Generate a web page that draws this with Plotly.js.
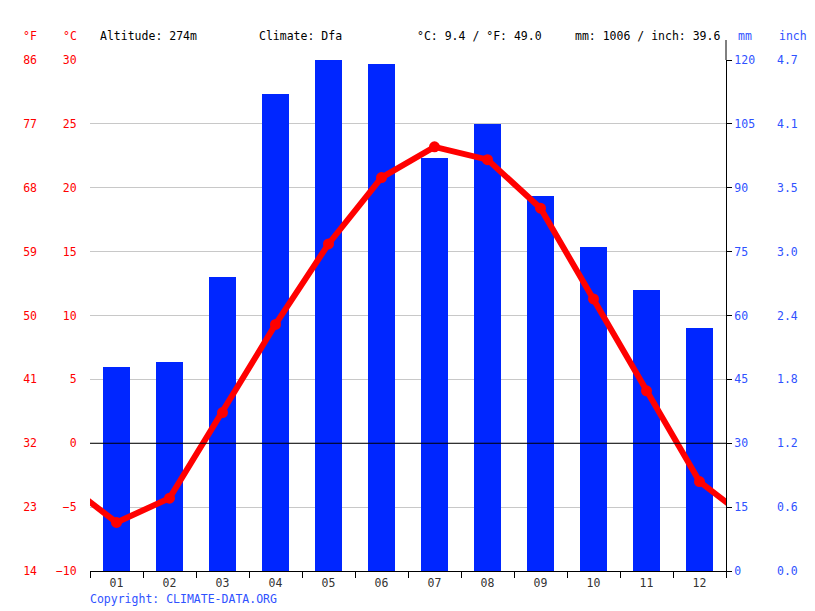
<!DOCTYPE html>
<html>
<head>
<meta charset="utf-8">
<script src="https://cdn.plot.ly/plotly-3.0.1.min.js"></script>
<style>html,body{margin:0;padding:0;background:#fff;}#chart{width:815px;height:611px;}</style>
</head>
<body>
<div id="chart"></div>
<script>
const months = ["01","02","03","04","05","06","07","08","09","10","11","12"];
const precipMm = [48, 49, 69, 112, 120, 119, 97, 105, 88, 76, 66, 57];
const tempC = [-6.2, -4.3, 2.4, 9.3, 15.6, 20.8, 23.2, 22.2, 18.4, 11.3, 4.1, -3.0];
const mmTicks = [0, 15, 30, 45, 60, 75, 90, 105, 120];
const inchLabels = ["0.0", "0.6", "1.2", "1.8", "2.4", "3.0", "3.5", "4.1", "4.7"];
const fTicks = [14, 23, 32, 41, 50, 59, 68, 77, 86];

const W = 815, H = 611;
const ML = 90, MR = 726, MT = 60, MB = 571;
const px = p => p / W;
const py = p => (MB - p) / (MB - MT);

const RED = "#ff0000";
const BLUE = "#0026ff";
const LBLUE = "#2f52ff";
const FONT = "DejaVu Sans Mono";
const FS = 11.5;

const xNum = months.map((m, i) => i + 1);
// wrap-around points so the line runs to the plot edges (clipped by the axis range)
const lineX = [0].concat(xNum, [13]);
const lineY = [tempC[11]].concat(tempC, [tempC[0]]);

const traces = [
  {type: "bar", x: xNum, y: precipMm, yaxis: "y", width: 0.5,
   marker: {color: BLUE}, hoverinfo: "skip"},
  {type: "scatter", mode: "lines+markers", x: lineX, y: lineY, yaxis: "y2",
   line: {color: RED, width: 6}, marker: {color: RED, size: 11}, cliponaxis: true},
  {type: "scatter", x: [], y: [], yaxis: "y3", showlegend: false},
  {type: "scatter", x: [], y: [], yaxis: "y4", showlegend: false}
];

const ann = (text, xp, color, anchor) => ({
  text: text, xref: "paper", yref: "paper", x: px(xp), y: py(36),
  xanchor: anchor || "left", yanchor: "middle", showarrow: false, borderpad: 0,
  font: {family: FONT, size: FS, color: color}
});

const layout = {
  width: W, height: H,
  margin: {l: 0, r: 0, t: MT, b: H - MB},
  paper_bgcolor: "#fff", plot_bgcolor: "#fff",
  showlegend: false, bargap: 0,
  font: {family: FONT, size: FS},
  xaxis: {
    domain: [px(ML), px(MR)], range: [0.5, 12.5],
    tickvals: xNum, ticktext: months,
    ticks: "outside", ticklen: 1, tickcolor: "rgba(0,0,0,0)",
    minor: {tickvals: [0.5,1.5,2.5,3.5,4.5,5.5,6.5,7.5,8.5,9.5,10.5,11.5,12.5], ticks: "outside", ticklen: 6, tickcolor: "#000", showgrid: false},
    showgrid: false, zeroline: false,
    showline: true, linecolor: "#000", linewidth: 1,
    tickfont: {family: FONT, size: FS, color: "#333"}
  },
  yaxis: {
    side: "right", range: [0, 120], tickvals: mmTicks,
    ticks: "outside", ticklen: 5, tickcolor: "#000",
    showline: true, linecolor: "#000", linewidth: 1,
    showgrid: true, gridcolor: "#c8c8c8", gridwidth: 1, zeroline: false,
    tickfont: {family: FONT, size: FS, color: LBLUE}
  },
  yaxis2: {
    overlaying: "y", side: "left", anchor: "x", range: [-10, 30], dtick: 5, tick0: -10,
    ticks: "outside", ticklen: 10, tickcolor: "rgba(0,0,0,0)",
    showgrid: false, zeroline: false, showline: false,
    tickfont: {family: FONT, size: FS, color: RED}
  },
  yaxis3: {
    overlaying: "y", side: "left", anchor: "free", position: px(37),
    range: [14, 86], tickvals: fTicks, ticks: "",
    showgrid: false, zeroline: false, showline: false,
    tickfont: {family: FONT, size: FS, color: RED}
  },
  yaxis4: {
    overlaying: "y", side: "right", anchor: "free", position: px(776),
    range: [0, 120], tickvals: mmTicks, ticktext: inchLabels, ticks: "",
    showgrid: false, zeroline: false, showline: false,
    tickfont: {family: FONT, size: FS, color: LBLUE}
  },
  shapes: [
    {type: "line", xref: "x domain", yref: "y2", x0: 0, x1: 1, y0: 0, y1: 0,
     line: {color: "#000", width: 1}, layer: "above"},
    {type: "line", xref: "paper", yref: "paper", x0: px(MR), x1: px(MR), y0: 1, y1: py(40),
     line: {color: "#000", width: 1}}
  ],
  annotations: [
    ann("°F", 38, RED, "right"),
    ann("°C", 78, RED, "right"),
    ann("Altitude: 274m", 99, "#000"),
    ann("Climate: Dfa", 258, "#000"),
    ann("°C: 9.4 / °F: 49.0", 416, "#000"),
    ann("mm: 1006 / inch: 39.6", 574, "#000"),
    ann("mm", 737, LBLUE),
    ann("inch", 778, LBLUE),
    {text: "Copyright: CLIMATE-DATA.ORG", xref: "paper", yref: "paper",
     x: px(89), y: py(599), xanchor: "left", yanchor: "middle", showarrow: false, borderpad: 0,
     font: {family: FONT, size: FS, color: LBLUE}}
  ]
};

Plotly.newPlot("chart", traces, layout, {displayModeBar: false, staticPlot: true});
</script>
</body>
</html>
